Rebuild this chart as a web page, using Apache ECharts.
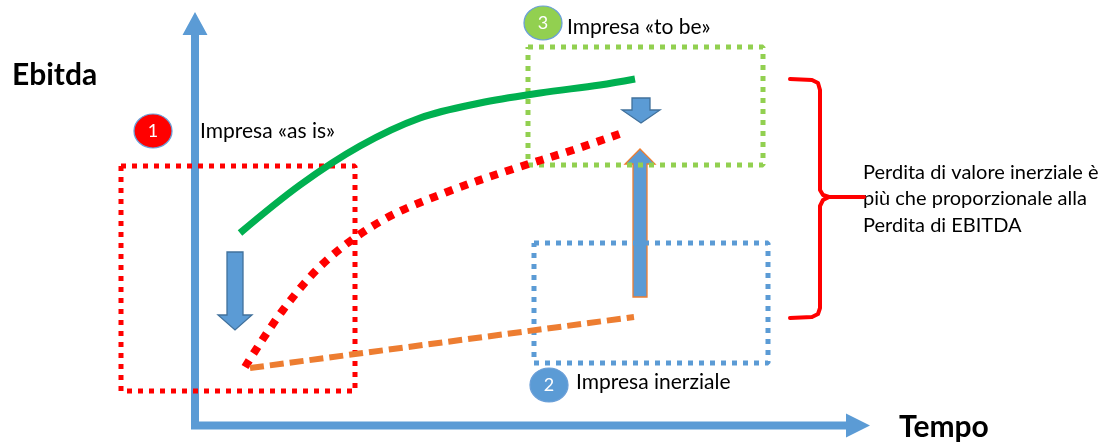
<!DOCTYPE html>
<html>
<head>
    <meta charset="utf-8" />
    <script src="https://cdn.jsdelivr.net/npm/echarts@6/dist/echarts.min.js"></script>
</head>
<body>
    <style>
        html, body { margin: 0; padding: 0; background: #fff; }
        #main { width: 1107px; height: 448px; }
    </style>
    <div id="main"></div>

    <script type="text/javascript">
        // diagram units: x to the right, y downward (y axis is inverted below)
        // curves
        const asIsCurve = [[240, 233], [300, 185], [360, 146], [420, 118], [480, 103], [540, 93], [600, 85], [635, 79]];
        const lossCurve = [[245, 367], [283, 310], [327, 260], [383, 220], [447, 192], [510, 170], [573, 150], [625, 132]];
        const inertialLine = [[250, 368], [634, 317]];

        // dotted boxes (closed outlines)
        const asIsBox = [[121, 166], [355, 166], [355, 391], [121, 391], [121, 166]];
        const toBeBox = [[528, 47], [763, 47], [763, 165], [528, 165], [528, 47]];
        const inertialBox = [[534, 243], [768, 243], [768, 363], [534, 363], [534, 243]];

        // brace on the right
        const brace = [[790, 79], [812, 80], [818, 83], [820, 90], [820, 190], [823, 195], [829, 197], [864, 197],
            [829, 197], [823, 200], [820, 206], [820, 308], [818, 314], [812, 317], [790, 318]];

        // arrows: [start, tip]
        const axisY = [[195, 429], [195, 12]];
        const axisX = [[191, 425.5], [870, 425.5]];
        const dropArrow = [[235, 252], [235, 330]];
        const recoveryArrow = [[640, 297], [640, 149]];
        const gapArrow = [[641, 98], [641, 123]];

        // numbered badges
        const badgeNumbers = ['1', '2', '3'];
        const badgeSpots = [[153, 131], [549, 385], [543, 23]];
        const badgeColors = ['#ff0000', '#5b9bd5', '#92d050'];

        var chart = echarts.init(document.getElementById('main'), null, { renderer: 'canvas' });

        function arrowSeries(name, seg, dims) {
            return {
                type: 'custom',
                name: name,
                silent: true,
                clip: false,
                data: [seg[0].concat(seg[1])],
                renderItem: function (params, api) {
                    var a = api.coord([api.value(0), api.value(1)]);
                    var b = api.coord([api.value(2), api.value(3)]);
                    var dx = b[0] - a[0], dy = b[1] - a[1];
                    var len = Math.sqrt(dx * dx + dy * dy);
                    var ux = dx / len, uy = dy / len, nx = -uy, ny = ux;
                    var s = dims.shaft / 2, h = dims.head / 2, base = len - dims.headLen;
                    function p(t, o) { return [a[0] + ux * t + nx * o, a[1] + uy * t + ny * o]; }
                    return {
                        type: 'polygon',
                        shape: { points: [p(0, -s), p(base, -s), p(base, -h), p(len, 0), p(base, h), p(base, s), p(0, s)] },
                        style: {
                            fill: dims.fill,
                            stroke: dims.stroke || null,
                            lineWidth: dims.stroke ? 1.3 : 0
                        }
                    };
                }
            };
        }

        function boxSeries(name, pts, color) {
            return {
                type: 'line', name: name, data: pts, symbol: 'none', silent: true,
                lineStyle: { color: color, width: 5, type: [5, 6], cap: 'butt' }
            };
        }

        var textFont = '21px Lato';

        chart.setOption({
            animation: false,
            grid: { left: 0, right: 0, top: 0, bottom: 0 },
            xAxis: { type: 'value', min: 0, max: 1107, show: false },
            yAxis: { type: 'value', min: 0, max: 448, inverse: true, show: false },
            series: [
                boxSeries('as is box', asIsBox, '#ff0000'),
                boxSeries('to be box', toBeBox, '#92d050'),
                boxSeries('inerziale box', inertialBox, '#5b9bd5'),
                arrowSeries('asse y', axisY, { shaft: 8, head: 25, headLen: 23, fill: '#5b9bd5' }),
                arrowSeries('asse x', axisX, { shaft: 8, head: 24, headLen: 24, fill: '#5b9bd5' }),
                {
                    type: 'line', name: 'as is', data: asIsCurve, smooth: 0.35, symbol: 'none', silent: true,
                    lineStyle: { color: '#00b050', width: 7, cap: 'butt' }
                },
                {
                    type: 'line', name: 'perdita', data: lossCurve, smooth: 0.35, symbol: 'none', silent: true,
                    lineStyle: { color: '#ff0000', width: 8, type: [8, 8], cap: 'butt' }
                },
                {
                    type: 'line', name: 'inerziale', data: inertialLine, symbol: 'none', silent: true,
                    lineStyle: { color: '#ed7d31', width: 6, type: [14, 6], cap: 'butt' }
                },
                {
                    type: 'line', name: 'graffa', data: brace, symbol: 'none', silent: true,
                    lineStyle: { color: '#ff0000', width: 4, join: 'round', cap: 'round' }
                },
                arrowSeries('calo', dropArrow, { shaft: 16, head: 34, headLen: 15, fill: '#5b9bd5', stroke: '#41719c' }),
                arrowSeries('recupero', recoveryArrow, { shaft: 14, head: 30, headLen: 15, fill: '#5b9bd5', stroke: '#ed7d31' }),
                arrowSeries('gap', gapArrow, { shaft: 18, head: 38, headLen: 13, fill: '#5b9bd5', stroke: '#41719c' }),
                {
                    type: 'scatter', name: 'badge', silent: true,
                    symbol: 'circle', symbolSize: [38, 34],
                    data: badgeSpots.map(function (p, i) {
                        return {
                            value: [p[0], p[1], badgeNumbers[i]],
                            itemStyle: { color: badgeColors[i] }
                        };
                    }),
                    itemStyle: { borderColor: '#6a9fd8', borderWidth: 1.2, opacity: 1 },
                    label: {
                        show: true, position: 'inside', color: '#fff',
                        fontFamily: 'Lato', fontSize: 18,
                        formatter: function (p) { return p.value[2]; }
                    }
                }
            ],
            graphic: [
                { type: 'text', silent: true, style: { x: 12, y: 75, text: 'Ebitda', font: 'bold 30px Lato', fill: '#000', verticalAlign: 'middle' } },
                { type: 'text', silent: true, style: { x: 899, y: 427, text: 'Tempo', font: 'bold 30px Lato', fill: '#000', verticalAlign: 'middle' } },
                { type: 'text', silent: true, style: { x: 200, y: 131, text: 'Impresa «as is»', font: textFont, fill: '#000', verticalAlign: 'middle' } },
                { type: 'text', silent: true, style: { x: 567, y: 27, text: 'Impresa «to be»', font: textFont, fill: '#000', verticalAlign: 'middle' } },
                { type: 'text', silent: true, style: { x: 576, y: 382, text: 'Impresa inerziale', font: textFont, fill: '#000', verticalAlign: 'middle' } },
                {
                    type: 'text', silent: true, style: {
                        x: 863, y: 159, text: 'Perdita di valore inerziale è\npiù che proporzionale alla\nPerdita di EBITDA',
                        font: '20px Lato', lineHeight: 26.5, fill: '#000', verticalAlign: 'top'
                    }
                }
            ]
        });
    </script>
</body>
</html>
